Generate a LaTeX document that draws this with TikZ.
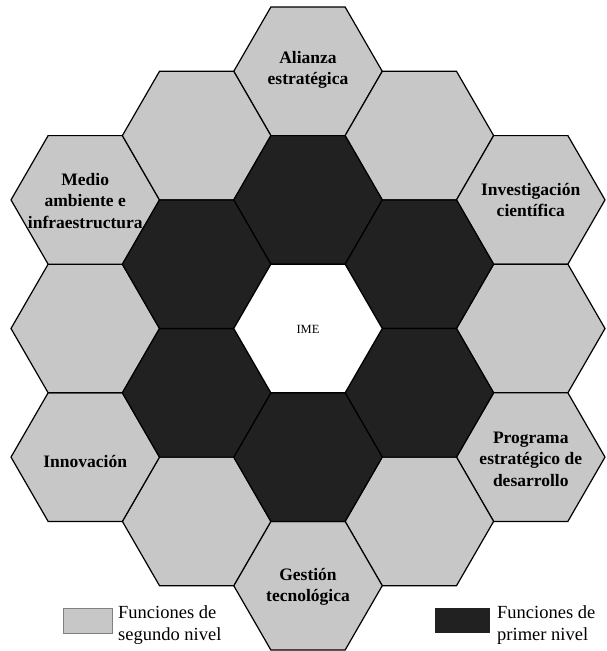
\documentclass[tikz,border=0pt]{standalone}
\usepackage{fontspec}
\setmainfont{Liberation Serif}
\definecolor{hexlight}{gray}{0.78}
\definecolor{hexdark}{gray}{0.13}
\newcommand{\hexshape}[3]{%
  \pgfmathsetmacro{\hx}{308+1.5*74.25*(#2)}%
  \pgfmathsetmacro{\hy}{328.5+128.6*((#3)+(#2)/2)}%
  \draw[#1] (\hx-74.25,\hy) -- ++(37.125,-64.3) -- ++(74.25,0) -- ++(37.125,64.3)
     -- ++(-37.125,64.3) -- ++(-74.25,0) -- cycle;%
}
\begin{document}
\begin{tikzpicture}[x=1pt,y=-1pt,
  hexborder/.style={draw=black,line width=1.2pt,line join=miter},
  lighthex/.style={hexborder,fill=hexlight},
  darkhex/.style={hexborder,fill=hexdark},
  whitehex/.style={hexborder,fill=white},
  lab/.style={align=center,inner sep=0pt,font=\bfseries\fontsize{17.5}{21.5}\selectfont},
  legtext/.style={align=left,inner sep=0pt,anchor=west,font=\fontsize{18.5}{21.5}\selectfont}]
\useasboundingbox (0,0) rectangle (606,651);
% second level ring
\foreach \q/\r in {0/-2,1/-2,2/-2,2/-1,2/0,1/1,0/2,-1/2,-2/2,-2/1,-2/0,-1/-1}
  {\hexshape{lighthex}{\q}{\r}}
% first level ring
\foreach \q/\r in {0/-1,1/-1,1/0,0/1,-1/1,-1/0}
  {\hexshape{darkhex}{\q}{\r}}
% centre
\hexshape{whitehex}{0}{0}
% labels
\node[font=\fontsize{12.5}{14}\selectfont] (ime) at (308,329) {IME};
\node[lab] (alianza) at (308,70) {Alianza\\estratégica};
\node[lab] (invest) at (530.75,200) {Investigación\\científica};
\node[lab] (programa) at (530.75,459) {Programa\\estratégico de\\desarrollo};
\node[lab] (gestion) at (308,587) {Gestión\\tecnológica};
\node[lab] (innov) at (85.25,461) {Innovación};
\node[lab] (medio) at (85.25,201) {Medio\\ambiente e\\infraestructura};
% legend
\node[draw=gray,line width=0.6pt,fill=hexlight,minimum width=49pt,minimum height=25pt,inner sep=0pt,anchor=north west] (legl) at (63,608) {};
\node[legtext] (leglt) at (118,625) {Funciones de\\segundo nivel};
\node[fill=hexdark,minimum width=55pt,minimum height=25pt,inner sep=0pt,anchor=north west] (legd) at (435,608) {};
\node[legtext] (legdt) at (497,625) {Funciones de\\primer nivel};
\end{tikzpicture}
\end{document}
